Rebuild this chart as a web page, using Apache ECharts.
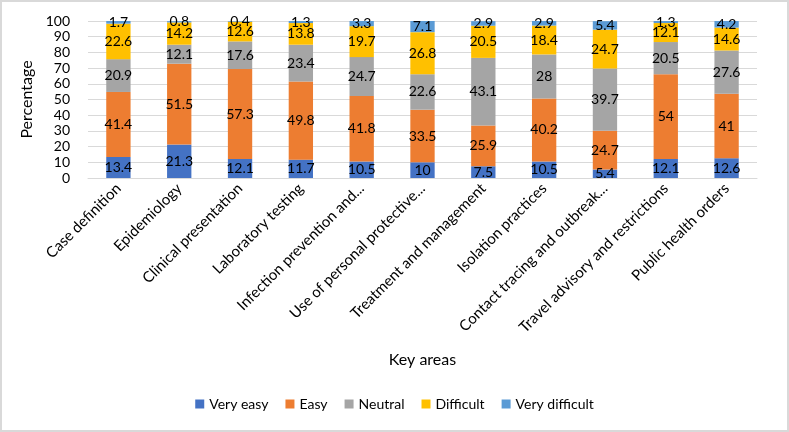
<!DOCTYPE html>
<html>
<head>
<meta charset="utf-8">
<script src="https://cdn.jsdelivr.net/npm/echarts@6/dist/echarts.min.js"></script>
<style>
  html, body { margin: 0; padding: 0; background: #fff; }
  #chart { width: 789px; height: 432px; box-sizing: border-box; border: 2px solid #d9d9d9; }
</style>
</head>
<body>
<div id="chart"></div>
<script>
  const categories = [
    'Case definition', 'Epidemiology', 'Clinical presentation', 'Laboratory testing',
    'Infection prevention and...', 'Use of personal protective...', 'Treatment and management',
    'Isolation practices', 'Contact tracing and outbreak...', 'Travel advisory and restrictions',
    'Public health orders'
  ]
  const veryEasy = [13.4, 21.3, 12.1, 11.7, 10.5, 10, 7.5, 10.5, 5.4, 12.1, 12.6]
  const easy = [41.4, 51.5, 57.3, 49.8, 41.8, 33.5, 25.9, 40.2, 24.7, 54, 41]
  const neutral = [20.9, 12.1, 17.6, 23.4, 24.7, 22.6, 43.1, 28, 39.7, 20.5, 27.6]
  const difficult = [22.6, 14.2, 12.6, 13.8, 19.7, 26.8, 20.5, 18.4, 24.7, 12.1, 14.6]
  const veryDifficult = [1.7, 0.8, 0.4, 1.3, 3.3, 7.1, 2.9, 2.9, 5.4, 1.3, 4.2]

  const fontFamily = 'Lato, "Liberation Sans", sans-serif'

  const makeSeries = (name, data, color) => ({
    name,
    type: 'bar',
    stack: 'total',
    barWidth: '40%',
    data,
    itemStyle: { color },
    label: {
      show: true,
      position: 'inside',
      color: '#000',
      fontSize: 14,
      fontFamily
    }
  })

  const chart = echarts.init(document.getElementById('chart'))
  chart.setOption({
    animation: false,
    textStyle: { fontFamily },
    grid: { left: 86, right: 30, top: 19, bottom: 252 },
    legend: {
      bottom: 14,
      left: 'center',
      itemWidth: 9,
      itemHeight: 9,
      itemGap: 17,
      icon: 'rect',
      textStyle: { fontSize: 14, color: '#000', fontFamily }
    },
    xAxis: {
      type: 'category',
      data: categories,
      name: 'Key areas',
      nameLocation: 'middle',
      nameGap: 174,
      nameTextStyle: { fontSize: 16, color: '#000' },
      axisTick: { show: false },
      axisLine: { lineStyle: { color: '#d9d9d9' } },
      axisLabel: {
        interval: 0,
        rotate: 45,
        fontSize: 15,
        color: '#000',
        margin: 8
      }
    },
    yAxis: {
      type: 'value',
      min: 0,
      max: 100,
      interval: 10,
      name: 'Percentage',
      nameLocation: 'middle',
      nameGap: 37,
      nameTextStyle: { fontSize: 16, color: '#000' },
      axisLabel: { fontSize: 14, color: '#000', margin: 18 },
      splitLine: { lineStyle: { color: '#d9d9d9' } }
    },
    series: [
      makeSeries('Very easy', veryEasy, '#4472C4'),
      makeSeries('Easy', easy, '#ED7D31'),
      makeSeries('Neutral', neutral, '#A5A5A5'),
      makeSeries('Difficult', difficult, '#FFC000'),
      makeSeries('Very difficult', veryDifficult, '#5B9BD5')
    ]
  })
</script>
</body>
</html>
